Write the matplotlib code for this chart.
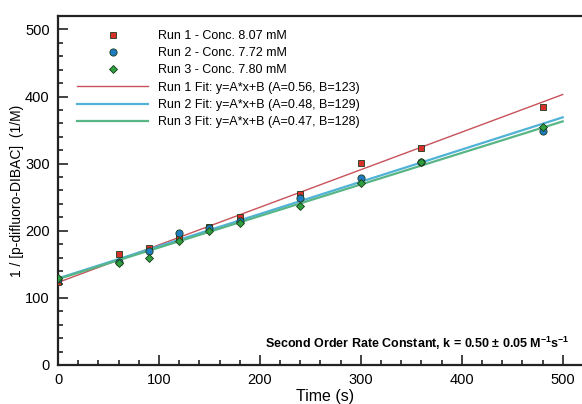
import numpy as np
import matplotlib
matplotlib.use('Agg')
import matplotlib.pyplot as plt
from matplotlib.ticker import MultipleLocator

plt.rcParams['font.family'] = ['Liberation Sans', 'DejaVu Sans']
plt.rcParams['mathtext.fontset'] = 'custom'
plt.rcParams['mathtext.bf'] = 'Liberation Sans:bold'
plt.rcParams['mathtext.rm'] = 'Liberation Sans'

# ---- data ----
time = [0, 60, 90, 120, 150, 180, 240, 300, 360, 480]
run1 = [124, 166, 175, 190, 205, 221, 255, 301, 324, 385]
run2 = [128, 153, 170, 196, 204, 214, 249, 279, 303, 348]
run3 = [130, 152, 160, 185, 200, 211, 237, 271, 303, 355]

fit_A = [0.56, 0.48, 0.47]
fit_B = [123, 129, 128]
fit_range = [0, 500]

run_labels = ['Run 1 - Conc. 8.07 mM', 'Run 2 - Conc. 7.72 mM', 'Run 3 - Conc. 7.80 mM']
fit_labels = ['Run 1 Fit: y=A*x+B (A=0.56, B=123)',
              'Run 2 Fit: y=A*x+B (A=0.48, B=129)',
              'Run 3 Fit: y=A*x+B (A=0.47, B=128)']

marker_colors = ['#d9302c', '#1f7cc0', '#2f9e3f']
line_colors = ['#c8525a', '#4fb2d6', '#58b586']
markers = ['s', 'o', 'D']
msizes = [5, 5.2, 4.5]

fig = plt.figure(figsize=(5.82, 4.04), dpi=100)
ax = fig.add_axes([58 / 582, 39 / 404, 535 / 582, 349 / 404])

xs = np.array(fit_range)
fit_handles = []
for A, B, c, lab in zip(fit_A, fit_B, line_colors, fit_labels):
    lw = 1.0 if c == line_colors[0] else 1.6
    h, = ax.plot(xs, A * xs + B, color=c, lw=lw, label=lab, zorder=2)
    fit_handles.append(h)

pt_handles = []
for ys, m, c, ms, lab in zip([run1, run2, run3], markers, marker_colors, msizes, run_labels):
    h, = ax.plot(time, ys, linestyle='none', marker=m, ms=ms, mfc=c,
                 mec='#1a3a1a', mew=0.6, label=lab, zorder=3)
    pt_handles.append(h)

ax.set_xlim(0, 530)
ax.set_ylim(0, 520)
ax.xaxis.set_major_locator(MultipleLocator(100))
ax.xaxis.set_minor_locator(MultipleLocator(20))
ax.yaxis.set_major_locator(MultipleLocator(100))
ax.yaxis.set_minor_locator(MultipleLocator(20))
ax.tick_params(which='both', direction='in', top=False, right=False,
               labelsize=10.5, width=1.2, color='#222222')
ax.tick_params(which='major', length=7, pad=6)
ax.tick_params(which='minor', length=3.5)
for s in ax.spines.values():
    s.set_linewidth(1.6)
    s.set_color('#222222')

ax.set_xlabel('Time (s)', fontsize=11.5, labelpad=1)
ax.set_ylabel('1 / [p-difluoro-DIBAC]  (1/M)', fontsize=10, labelpad=0.5)

leg = ax.legend(pt_handles + fit_handles, run_labels + fit_labels,
                loc='upper left', bbox_to_anchor=(0.019, 0.985), frameon=False,
                fontsize=9, handlelength=5.7, handletextpad=0.8,
                labelspacing=0.42, borderaxespad=0.3)

ax.text(512 / 535, 0.063,
        r'Second Order Rate Constant, k = 0.50 ± 0.05 M$\mathbf{^{-1}}$s$\mathbf{^{-1}}$',
        transform=ax.transAxes, ha='right', va='center', fontsize=9,
        fontweight='bold')

fig.savefig('out.png', dpi=100)
